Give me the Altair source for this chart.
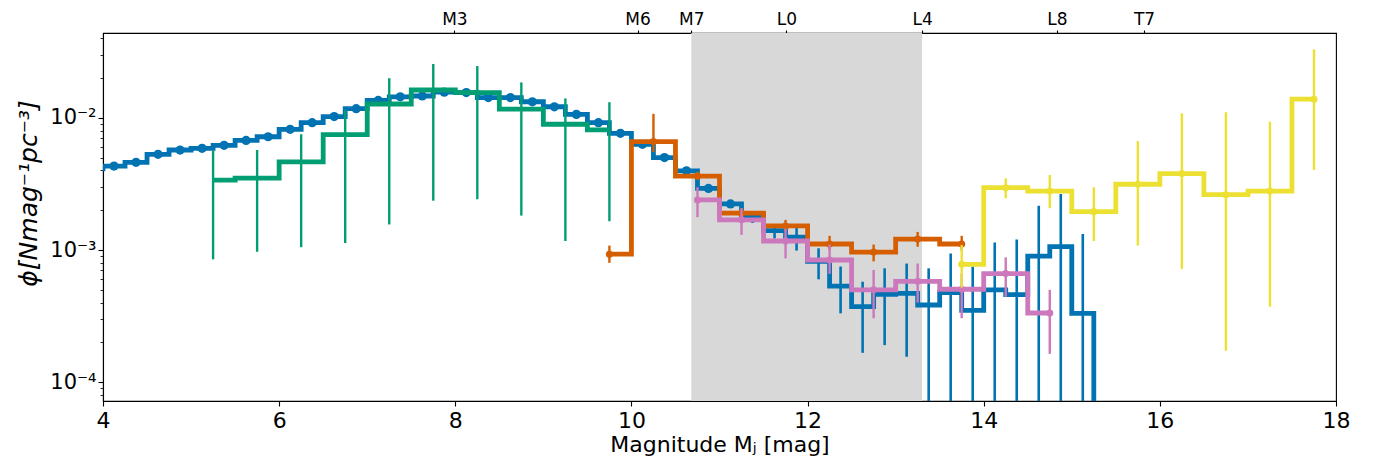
import altair as alt
import pandas as pd

# ---------------- data ----------------
blue_fine_x = [3.875, 4.125, 4.375, 4.625, 4.875, 5.125, 5.375, 5.625, 5.875, 6.125,
               6.375, 6.625, 6.875, 7.125, 7.375, 7.625, 7.875, 8.125, 8.375, 8.625,
               8.875, 9.125, 9.375, 9.625, 9.875, 10.125, 10.375, 10.625, 10.875, 11.125]
blue_fine_y = [4.1e-3, 4.31e-3, 4.6e-3, 5.29e-3, 5.7e-3, 5.87e-3, 6.19e-3, 6.73e-3, 7.18e-3, 8.17e-3,
               9.17e-3, 1.02e-2, 1.17e-2, 1.35e-2, 1.44e-2, 1.46e-2, 1.56e-2, 1.55e-2, 1.42e-2, 1.42e-2,
               1.32e-2, 1.21e-2, 1.06e-2, 9.17e-3, 7.62e-3, 6.3e-3, 5.0e-3, 3.97e-3, 2.92e-3, 2.23e-3]

blue_err_x = [11.375, 11.625, 11.875, 12.125, 12.375, 12.625, 12.875, 13.125, 13.375,
              13.625, 13.875, 14.125, 14.375, 14.625, 14.875, 15.125, 15.375]
blue_err_y = [1.77e-3, 1.4e-3, 1.25e-3, 8.2e-4, 5.34e-4, 3.73e-4, 4.62e-4, 4.7e-4, 3.84e-4,
              4.77e-4, 3.5e-4, 5.0e-4, 4.6e-4, 9.0e-4, 1.06e-3, 3.32e-4, 1e-5]
blue_err_lo = [1.6e-3, 1.22e-3, 9.9e-4, 6.0e-4, 3.32e-4, 1.67e-4, 1.91e-4, 1.56e-4, 1e-5,
               1e-5, 1e-5, 1e-5, 1e-5, 1e-5, 1e-5, 1e-5, 1e-5]
blue_err_hi = [1.95e-3, 1.55e-3, 1.55e-3, 1.03e-3, 7.5e-4, 5.76e-4, 7.27e-4, 7.9e-4, 7.27e-4,
               9.4e-4, 7.5e-4, 1.14e-3, 1.2e-3, 2.16e-3, 2.65e-3, 1.32e-3, 1e-5]

green_x = [5.25, 5.75, 6.25, 6.75, 7.25, 7.75, 8.25, 8.75, 9.25, 9.75]
green_y = [3.38e-3, 3.5e-3, 4.63e-3, 7.45e-3, 1.27e-2, 1.62e-2, 1.55e-2, 1.16e-2, 8.93e-3, 8.1e-3]
green_lo = [8.5e-4, 9.7e-4, 1.05e-3, 1.13e-3, 1.56e-3, 2.36e-3, 2.42e-3, 1.82e-3, 1.17e-3, 1.65e-3]
green_hi = [5.64e-3, 5.7e-3, 7.5e-3, 1.15e-2, 1.99e-2, 2.55e-2, 2.46e-2, 1.85e-2, 1.4e-2, 1.31e-2]

orange_x = [9.75, 10.25, 10.75, 11.25, 11.75, 12.25, 12.75, 13.25, 13.75]
orange_y = [9.3e-4, 6.6e-3, 3.62e-3, 1.9e-3, 1.52e-3, 1.11e-3, 9.65e-4, 1.21e-3, 1.11e-3]
orange_lo = [8.0e-4, 5.5e-3, 3.38e-3, 1.74e-3, 1.37e-3, 1.0e-3, 8.2e-4, 1.06e-3, 9.9e-4]
orange_hi = [1.08e-3, 1.07e-2, 3.9e-3, 2.07e-3, 1.69e-3, 1.28e-3, 1.1e-3, 1.37e-3, 1.28e-3]

pink_x = [10.75, 11.25, 11.75, 12.25, 12.75, 13.25, 13.75, 14.25, 14.75]
pink_y = [2.39e-3, 1.69e-3, 1.17e-3, 8.4e-4, 5.0e-4, 5.8e-4, 5.05e-4, 6.63e-4, 3.34e-4]
pink_lo = [1.77e-3, 1.3e-3, 8.65e-4, 6.6e-4, 3.05e-4, 4.0e-4, 3.05e-4, 4.43e-4, 1.64e-4]
pink_hi = [2.98e-3, 2.07e-3, 1.45e-3, 1.1e-3, 7.06e-4, 7.9e-4, 6.6e-4, 8.8e-4, 5.0e-4]

yellow_x = [13.75, 14.25, 14.75, 15.25, 15.75, 16.25, 16.75, 17.25, 17.75]
yellow_y = [7.8e-4, 2.96e-3, 2.79e-3, 1.95e-3, 3.14e-3, 3.78e-3, 2.62e-3, 2.79e-3, 1.38e-2]
yellow_lo = [5.2e-4, 2.46e-3, 2.07e-3, 1.17e-3, 1.08e-3, 7.2e-4, 1.73e-4, 3.73e-4, 4.03e-3]
yellow_hi = [1.09e-3, 3.48e-3, 3.69e-3, 2.98e-3, 6.67e-3, 1.08e-2, 1.1e-2, 9.33e-3, 3.29e-2]

sp_labels = ["M3", "M6", "M7", "L0", "L4", "L8", "T7"]
sp_pos = [7.99, 10.07, 10.68, 11.76, 13.30, 14.83, 15.82]
band_lo = [10.68]
band_hi = [13.30]

x_ticks = [4, 6, 8, 10, 12, 14, 16, 18]
y_major = [1e-4, 1e-3, 1e-2]
y_major_labels = ["10\u207b\u2074", "10\u207b\u00b3", "10\u207b\u00b2"]
y_minor_mant = [2, 3, 4, 5, 6, 7, 8, 9]
y_decades = [1e-5, 1e-4, 1e-3, 1e-2]
y_domain = [7.22e-5, 0.0437]

# ---------------- colours / styles ----------------
C_BLUE, C_GREEN, C_ORANGE, C_PINK, C_YELLOW = "#0173b2", "#029e73", "#d55e00", "#cc78bc", "#ece133"
FONT = "DejaVu Sans"
LW = 4.8

# ---------------- scales & axes ----------------
XS = alt.Scale(domain=[4, 18], nice=False, zero=False)
YS = alt.Scale(type="log", domain=y_domain, nice=False)

y_ticks = []
for d in y_decades:
    for m in [1] + y_minor_mant:
        v = round(m * d, 10)
        if y_domain[0] <= v <= y_domain[1]:
            y_ticks.append(v)

major_test = " || ".join(f"abs(datum.value - {v}) < {v * 1e-3}" for v in y_major)
y_label_expr = " : ".join(
    f"abs(datum.value - {v}) < {v * 1e-3} ? '{lab}'" for v, lab in zip(y_major, y_major_labels)
) + " : ''"
top_label_expr = " : ".join(
    f"abs(datum.value - {p}) < 0.005 ? '{lab}'" for p, lab in zip(sp_pos, sp_labels)
) + " : ''"

Y_TITLE = "\u03d5[Nmag\u207b\u00b9pc\u207b\u00b3]"
Y_AXIS = alt.Axis(
    values=y_ticks,
    labelExpr=y_label_expr,
    tickSize={"condition": {"test": major_test, "value": 5}, "value": 3},
    tickWidth={"condition": {"test": major_test, "value": 1.1}, "value": 0.8},
    labelFontSize=21,
    labelPadding=2,
    titleFontSize=25,
    titleFontStyle="italic",
    titleFontWeight="normal",
    titlePadding=8,
    titleY=160,
    grid=False,
)
X_AXIS_BOTTOM = alt.Axis(
    values=x_ticks, format="d", tickSize=5, tickWidth=1.1, labelFontSize=22,
    labelPadding=4, labelFlush=False, title="Magnitude M\u2c7c [mag]",
    titleFontSize=22, titleFontWeight="normal", titlePadding=3, grid=False, orient="bottom",
)
X_AXIS_TOP = alt.Axis(
    values=sp_pos, labelExpr=top_label_expr, tickSize=3, tickWidth=1.1, labelFontSize=17,
    labelPadding=2, labelFlush=False, title=None, grid=False, orient="top",
)


def yq(field):
    return alt.Y(f"{field}:Q", scale=YS, axis=Y_AXIS, title=Y_TITLE)


def xq(field):
    return alt.X(f"{field}:Q", scale=XS, axis=None)


def series_layers(xs, ys, los, his, color, dot_size=50, bar_width=2.4, line_width=LW):
    df = pd.DataFrame({"x": xs, "y": ys, "lo": los, "hi": his})
    line = alt.Chart(df).mark_line(interpolate="step", color=color, strokeWidth=line_width,
                                   clip=True).encode(x=xq("x"), y=yq("y"))
    bars = alt.Chart(df).mark_rule(color=color, strokeWidth=bar_width, clip=True).encode(
        x=xq("x"), y=yq("lo"), y2="hi:Q")
    out = [line, bars]
    if dot_size > 0:
        dots = alt.Chart(df).mark_circle(color=color, size=dot_size, opacity=1, clip=True).encode(
            x=xq("x"), y=yq("y"))
        out.append(dots)
    return out


band = alt.Chart(pd.DataFrame({"lo": band_lo, "hi": band_hi})).mark_rect(
    color="#d8d8d8", opacity=1).encode(
    x=alt.X("lo:Q", scale=XS, axis=X_AXIS_BOTTOM), x2="hi:Q")

# blue: one step line across both parts
blue_line_df = pd.DataFrame({"x": blue_fine_x + blue_err_x, "y": blue_fine_y + blue_err_y})
blue_line = alt.Chart(blue_line_df).mark_line(interpolate="step", color=C_BLUE, strokeWidth=LW,
                                              clip=True).encode(x=xq("x"), y=yq("y"))
blue_dots = alt.Chart(pd.DataFrame({"x": blue_fine_x, "y": blue_fine_y})).mark_circle(
    color=C_BLUE, size=85, opacity=1, clip=True).encode(x=xq("x"), y=yq("y"))
blue_bars = alt.Chart(pd.DataFrame({"x": blue_err_x, "lo": blue_err_lo, "hi": blue_err_hi})).mark_rule(
    color=C_BLUE, strokeWidth=2.6, clip=True).encode(x=xq("x"), y=yq("lo"), y2="hi:Q")

layers = [band, blue_line, blue_dots, blue_bars]
layers += series_layers(green_x, green_y, green_lo, green_hi, C_GREEN, dot_size=0)
layers += series_layers(orange_x, orange_y, orange_lo, orange_hi, C_ORANGE)
layers += series_layers(pink_x, pink_y, pink_lo, pink_hi, C_PINK)
layers += series_layers(yellow_x, yellow_y, yellow_lo, yellow_hi, C_YELLOW)

top_axis = alt.Chart(pd.DataFrame({"pos": sp_pos, "label": sp_labels})).mark_rule(
    opacity=0).encode(x=alt.X("pos:Q", scale=XS, axis=X_AXIS_TOP))
layers.append(top_axis)

chart = alt.layer(*layers).resolve_axis(x="independent").properties(
    width=1233, height=368,
    autosize=alt.AutoSizeParams(type="none"),
    padding={"left": 95, "top": 25, "right": 34, "bottom": 61},
).configure_view(stroke="black", strokeWidth=1.1).configure_axis(
    domainColor="black", domainWidth=1.1, tickColor="black", labelColor="black",
    titleColor="black", labelFont=FONT, titleFont=FONT,
)

chart.save("out.html", embed_options={"renderer": "svg", "actions": False})
